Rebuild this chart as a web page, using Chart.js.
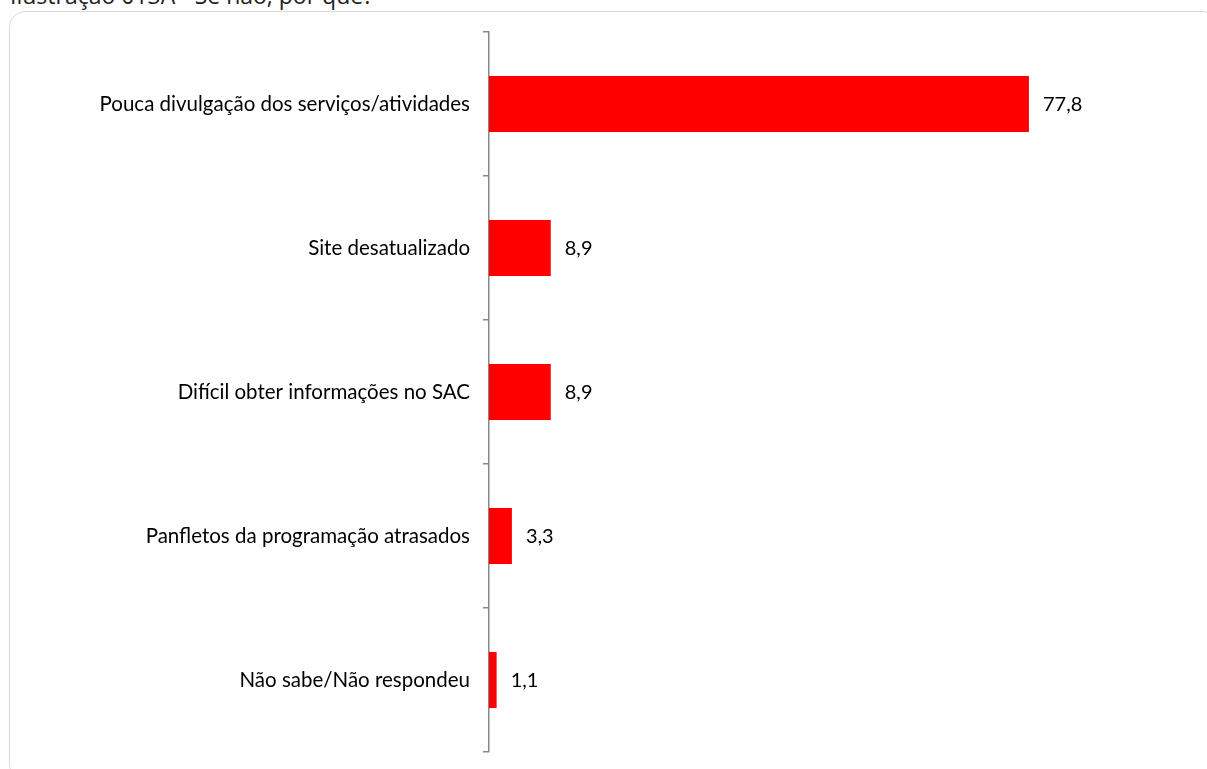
<!DOCTYPE html>
<html>
<head>
<meta charset="utf-8">
<script src="https://cdn.jsdelivr.net/npm/chart.js@4/dist/chart.umd.min.js"></script>
<style>
  html, body { margin: 0; padding: 0; background: #fff; }
  #wrap { position: relative; width: 1207px; height: 769px; overflow: hidden; }
  #title { position: absolute; left: 10px; top: -19px; font-family: "Open Sans", sans-serif; font-size: 23px; line-height: 28px; color: #222; white-space: nowrap; }
  #box { position: absolute; left: 9px; top: 11px; width: 1210px; height: 770px; border: 1px solid #d9d9d9; border-radius: 16px; box-sizing: border-box; }
  #c { position: absolute; left: 0; top: 0; }
</style>
</head>
<body>
<div id="wrap">
  <div id="title">Ilustração 013A - Se não, por quê?</div>
  <div id="box"></div>
  <canvas id="c" width="1207" height="769"></canvas>
</div>
<script>
const categories = [
  "Pouca divulgação dos serviços/atividades",
  "Site desatualizado",
  "Difícil obter informações no SAC",
  "Panfletos da programação atrasados",
  "Não sabe/Não respondeu"
];
const values = [77.8, 8.9, 8.9, 3.3, 1.1];

const FONT = 'Lato, "Open Sans", sans-serif';

const valueLabels = {
  id: 'valueLabels',
  afterDatasetsDraw(chart) {
    const ctx = chart.ctx;
    const meta = chart.getDatasetMeta(0);
    ctx.save();
    ctx.font = '20px ' + FONT;
    ctx.fillStyle = '#000';
    ctx.textAlign = 'left';
    ctx.textBaseline = 'middle';
    meta.data.forEach((bar, i) => {
      ctx.fillText(values[i].toFixed(1).replace('.', ','), bar.x + 14, bar.y + 1);
    });
    ctx.restore();
  }
};

new Chart(document.getElementById('c'), {
  type: 'bar',
  data: {
    labels: categories,
    datasets: [{
      data: values,
      backgroundColor: '#ff0000',
      borderWidth: 0,
      categoryPercentage: 1,
      barPercentage: 0.39
    }]
  },
  options: {
    indexAxis: 'y',
    responsive: false,
    animation: false,
    layout: { padding: { left: 0, right: 24, top: 32, bottom: 17 } },
    plugins: { legend: { display: false }, tooltip: { enabled: false } },
    scales: {
      x: { min: 0, max: 100, display: false },
      y: {
        afterFit(scale) { scale.width = 489; scale.paddingTop = 0; scale.paddingBottom = 0; },
        grid: { drawOnChartArea: false, drawTicks: true, tickLength: 6, color: '#888', lineWidth: 1.5 },
        border: { display: true, color: '#888', width: 1.5 },
        ticks: { color: '#000', padding: 13, font: { family: FONT, size: 20.5 } }
      }
    }
  },
  plugins: [valueLabels]
});
</script>
</body>
</html>
